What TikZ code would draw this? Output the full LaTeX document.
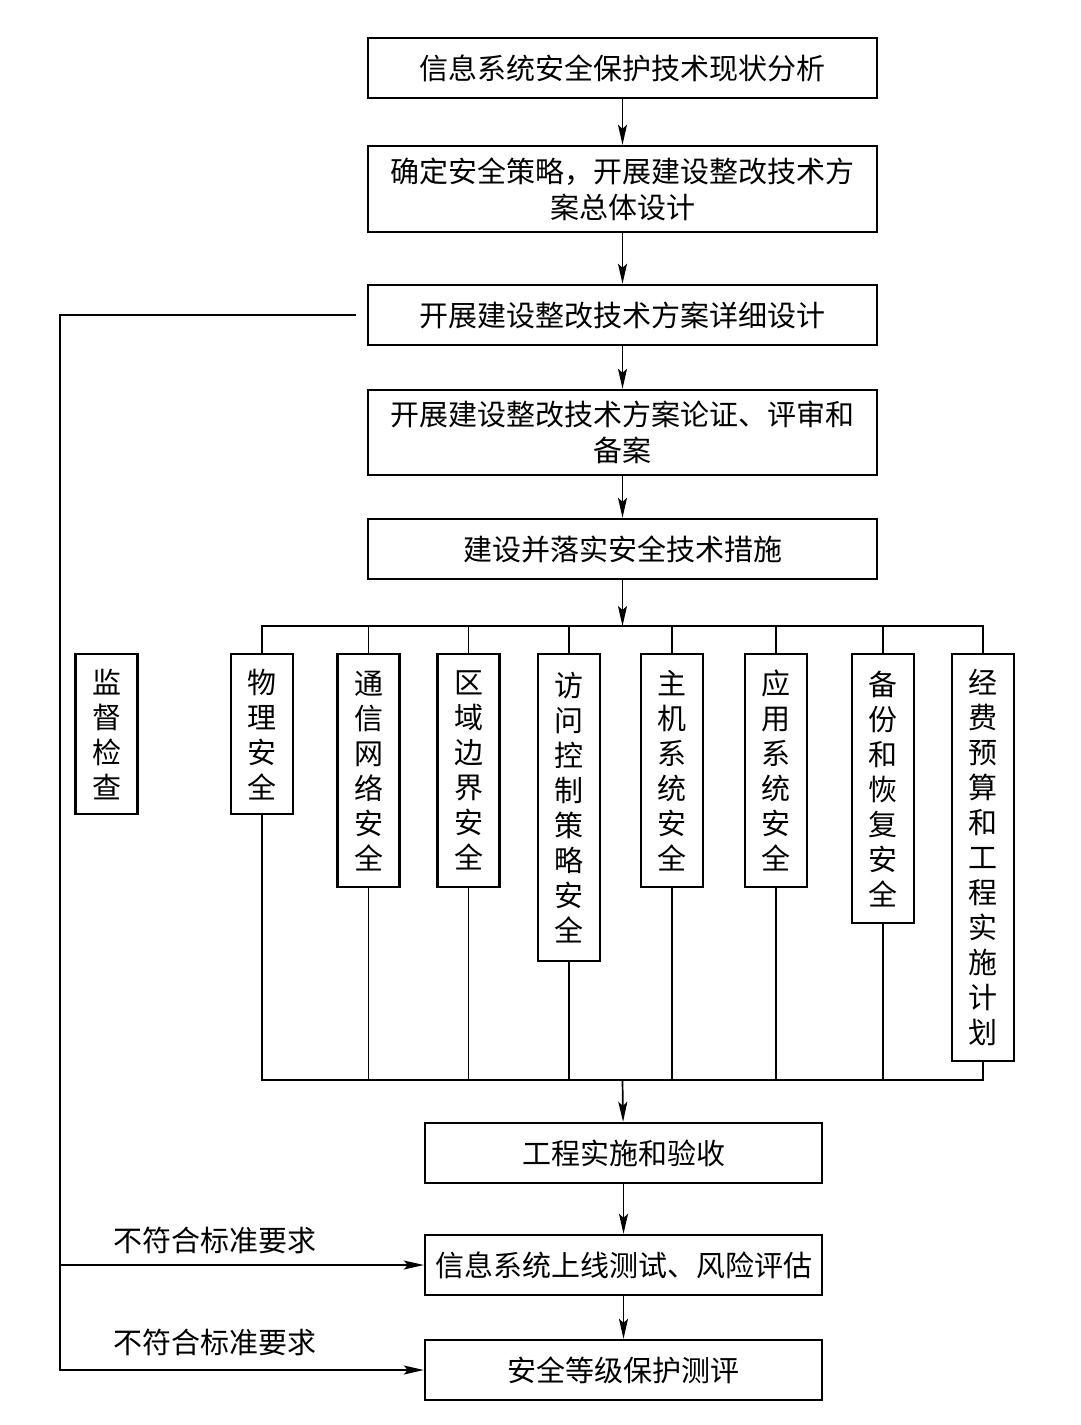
\documentclass[tikz,border=0pt]{standalone}
\usepackage{fontspec}
\setmainfont{Noto Sans CJK SC}
\usetikzlibrary{arrows.meta}
\begin{document}
\begin{tikzpicture}[x=1pt,y=1pt,
  box/.style={draw, line width=2.4pt, inner sep=0pt, align=center, font=\fontsize{29}{36}\selectfont},
  hbox/.style={box, minimum width=509pt, minimum height=60pt},
  lbox/.style={box, minimum width=397pt, minimum height=60pt},
  vbox/.style={box, minimum width=62pt, anchor=north, font=\fontsize{29}{35}\selectfont},
  conn/.style={line width=1.7pt},
  arr/.style={conn, -{Stealth[length=20pt,width=9pt,inset=4pt]}},
  lbl/.style={font=\fontsize{29}{35}\selectfont}]
\fill[white] (0,0) rectangle (1080,-1425);
\useasboundingbox (0,0) rectangle (1080,-1425);

\node[hbox] (b1) at (622.5,-68) {信息系统安全保护技术现状分析};
\node[hbox, minimum height=86pt] (b2) at (622.5,-189) {确定安全策略，开展建设整改技术方\\案总体设计};
\node[hbox] (b3) at (622.5,-315) {开展建设整改技术方案详细设计};
\node[hbox, minimum height=85pt] (b4) at (622.5,-432.5) {开展建设整改技术方案论证、评审和\\备案};
\node[hbox] (b5) at (622.5,-549) {建设并落实安全技术措施};

\node[vbox, minimum height=160pt] (v0) at (106.5,-653) {监\\督\\检\\查};
\node[vbox, minimum height=160pt] (v1) at (262,-653) {物\\理\\安\\全};
\node[vbox, minimum height=233pt] (v2) at (368.5,-653) {通\\信\\网\\络\\安\\全};
\node[vbox, minimum height=233pt] (v3) at (468.5,-653) {区\\域\\边\\界\\安\\全};
\node[vbox, minimum height=307pt] (v4) at (569,-653) {访\\问\\控\\制\\策\\略\\安\\全};
\node[vbox, minimum height=233pt] (v5) at (672,-653) {主\\机\\系\\统\\安\\全};
\node[vbox, minimum height=233pt] (v6) at (776,-653) {应\\用\\系\\统\\安\\全};
\node[vbox, minimum height=269pt] (v7) at (883,-653) {备\\份\\和\\恢\\复\\安\\全};
\node[vbox, minimum height=407pt] (v8) at (983,-653) {经\\费\\预\\算\\和\\工\\程\\实\\施\\计\\划};

\node[lbox] (b6) at (623.5,-1153) {工程实施和验收};
\node[lbox] (b7) at (623.5,-1265) {信息系统上线测试、风险评估};
\node[lbox] (b8) at (623.5,-1370) {安全等级保护测评};

\node[lbl] (n1) at (215,-1240) {不符合标准要求};
\node[lbl] (n2) at (215,-1342) {不符合标准要求};

\foreach \a/\b in {b1/b2,b2/b3,b3/b4,b4/b5,b6/b7,b7/b8}
  \draw[arr] (\a) -- (\b);

\coordinate (tb) at (622.5,-626);
\draw[arr] (b5) -- (tb);
\draw[conn] (v1.north) |- (v8.north |- tb) -- (v8.north);
\foreach \v in {v2,v3,v4,v5,v6,v7}
  \draw[conn] (\v.north) -- (\v.north |- tb);

\coordinate (bb) at (622.5,-1080);
\draw[conn] (v1.south) |- (v8.south |- bb) -- (v8.south);
\foreach \v in {v2,v3,v4,v5,v6,v7}
  \draw[conn] (\v.south) -- (\v.south |- bb);
\draw[arr] (bb) -- (b6);

\coordinate (fl) at (60,-315);
\draw[arr, shorten <=11pt] (b3.west) -- (fl) |- (b8.west);
\draw[arr] (fl |- b7.west) -- (b7.west);
\end{tikzpicture}
\end{document}
